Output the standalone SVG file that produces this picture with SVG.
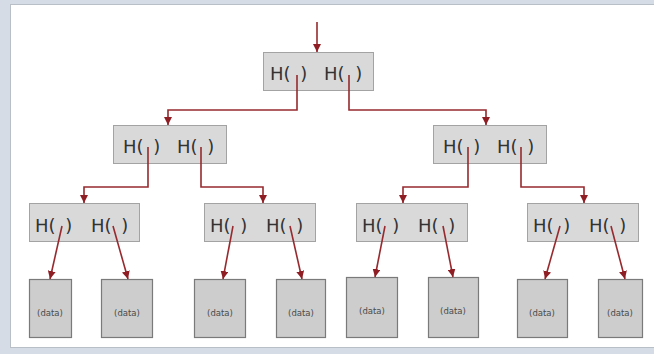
<svg xmlns="http://www.w3.org/2000/svg" width="654" height="354" viewBox="0 0 654 354">
<defs>
<style>
.box{fill:#d9d9d9;stroke:#a3a3a3;stroke-width:1}
.data{fill:#cdcdcd;stroke:#7a7a7a;stroke-width:1.2}
.h{font-family:"DejaVu Sans","Liberation Sans",sans-serif;font-size:18px;fill:#333}
.d{font-family:"DejaVu Sans","Liberation Sans",sans-serif;font-size:8.5px;fill:#4a4a4a;text-anchor:middle}
.c{fill:none;stroke:#962a2e;stroke-width:1.6}
</style>
<marker id="ah" markerUnits="userSpaceOnUse" markerWidth="9" markerHeight="8" refX="8" refY="4" orient="auto">
<path d="M0,0 L8,4 L0,8 z" fill="#8e1e24"/>
</marker>
</defs>
<rect x="0" y="0" width="654" height="354" fill="#d5dce6"/>
<rect x="10.5" y="4.5" width="645" height="343" fill="#ffffff" stroke="#b9bfc7" stroke-width="1"/>

<g id="root"><rect class="box" x="263.5" y="52.5" width="110" height="38"/><text class="h" x="270" y="80">H(<tspan dx="4"> )</tspan></text><text class="h" x="324" y="80">H(<tspan dx="5"> )</tspan></text></g>

<g id="n-l"><rect class="box" x="113.5" y="125.5" width="113" height="38"/><text class="h" x="123" y="153">H(<tspan dx="4"> )</tspan></text><text class="h" x="177" y="153">H(<tspan dx="4"> )</tspan></text></g>
<g id="n-r"><rect class="box" x="433.5" y="125.5" width="113" height="38"/><text class="h" x="443" y="153">H(<tspan dx="4"> )</tspan></text><text class="h" x="497" y="153">H(<tspan dx="4"> )</tspan></text></g>

<g id="n-ll"><rect class="box" x="29.5" y="203.5" width="110" height="38"/><text class="h" x="35" y="232">H(<tspan dx="4"> )</tspan></text><text class="h" x="91" y="232">H(<tspan dx="4"> )</tspan></text></g>
<g id="n-lr"><rect class="box" x="204.5" y="203.5" width="111" height="38"/><text class="h" x="210" y="232">H(<tspan dx="4"> )</tspan></text><text class="h" x="266" y="232">H(<tspan dx="4"> )</tspan></text></g>
<g id="n-rl"><rect class="box" x="356.5" y="203.5" width="111" height="38"/><text class="h" x="362" y="232">H(<tspan dx="4"> )</tspan></text><text class="h" x="418" y="232">H(<tspan dx="4"> )</tspan></text></g>
<g id="n-rr"><rect class="box" x="527.5" y="203.5" width="111" height="38"/><text class="h" x="533" y="232">H(<tspan dx="4"> )</tspan></text><text class="h" x="589" y="232">H(<tspan dx="4"> )</tspan></text></g>

<g id="d1"><rect class="data" x="29.5" y="279.5" width="42" height="58"/><text class="d" x="50" y="316">(data)</text></g>
<g id="d2"><rect class="data" x="101.5" y="279.5" width="51" height="58"/><text class="d" x="127" y="316">(data)</text></g>
<g id="d3"><rect class="data" x="194.5" y="279.5" width="51" height="58"/><text class="d" x="220" y="316">(data)</text></g>
<g id="d4"><rect class="data" x="276.5" y="279.5" width="49" height="58"/><text class="d" x="301" y="316">(data)</text></g>
<g id="d5"><rect class="data" x="346.5" y="277.5" width="51" height="60"/><text class="d" x="372" y="314">(data)</text></g>
<g id="d6"><rect class="data" x="428.5" y="277.5" width="50" height="60"/><text class="d" x="453" y="314">(data)</text></g>
<g id="d7"><rect class="data" x="517.5" y="279.5" width="50" height="58"/><text class="d" x="542" y="316">(data)</text></g>
<g id="d8"><rect class="data" x="598.5" y="279.5" width="44" height="58"/><text class="d" x="620" y="316">(data)</text></g>

<g id="connectors">
<path class="c" d="M317,22 L317,52" marker-end="url(#ah)"/>
<path class="c" d="M297,75 L297,110 L168,110 L168,125" marker-end="url(#ah)"/>
<path class="c" d="M349,75 L349,110 L486,110 L486,125" marker-end="url(#ah)"/>
<path class="c" d="M148,147 L148,187 L84,187 L84,203" marker-end="url(#ah)"/>
<path class="c" d="M201,147 L201,187 L263,187 L263,203" marker-end="url(#ah)"/>
<path class="c" d="M468,147 L468,187 L403,187 L403,203" marker-end="url(#ah)"/>
<path class="c" d="M521,147 L521,187 L584,187 L584,203" marker-end="url(#ah)"/>
<path class="c" d="M62,226 L50,279" marker-end="url(#ah)"/>
<path class="c" d="M113,226 L128,279" marker-end="url(#ah)"/>
<path class="c" d="M233,226 L223,279" marker-end="url(#ah)"/>
<path class="c" d="M290,226 L302,279" marker-end="url(#ah)"/>
<path class="c" d="M385,226 L375,277" marker-end="url(#ah)"/>
<path class="c" d="M443,226 L453,277" marker-end="url(#ah)"/>
<path class="c" d="M560,226 L545,279" marker-end="url(#ah)"/>
<path class="c" d="M611,226 L625,279" marker-end="url(#ah)"/>
</g>
</svg>
